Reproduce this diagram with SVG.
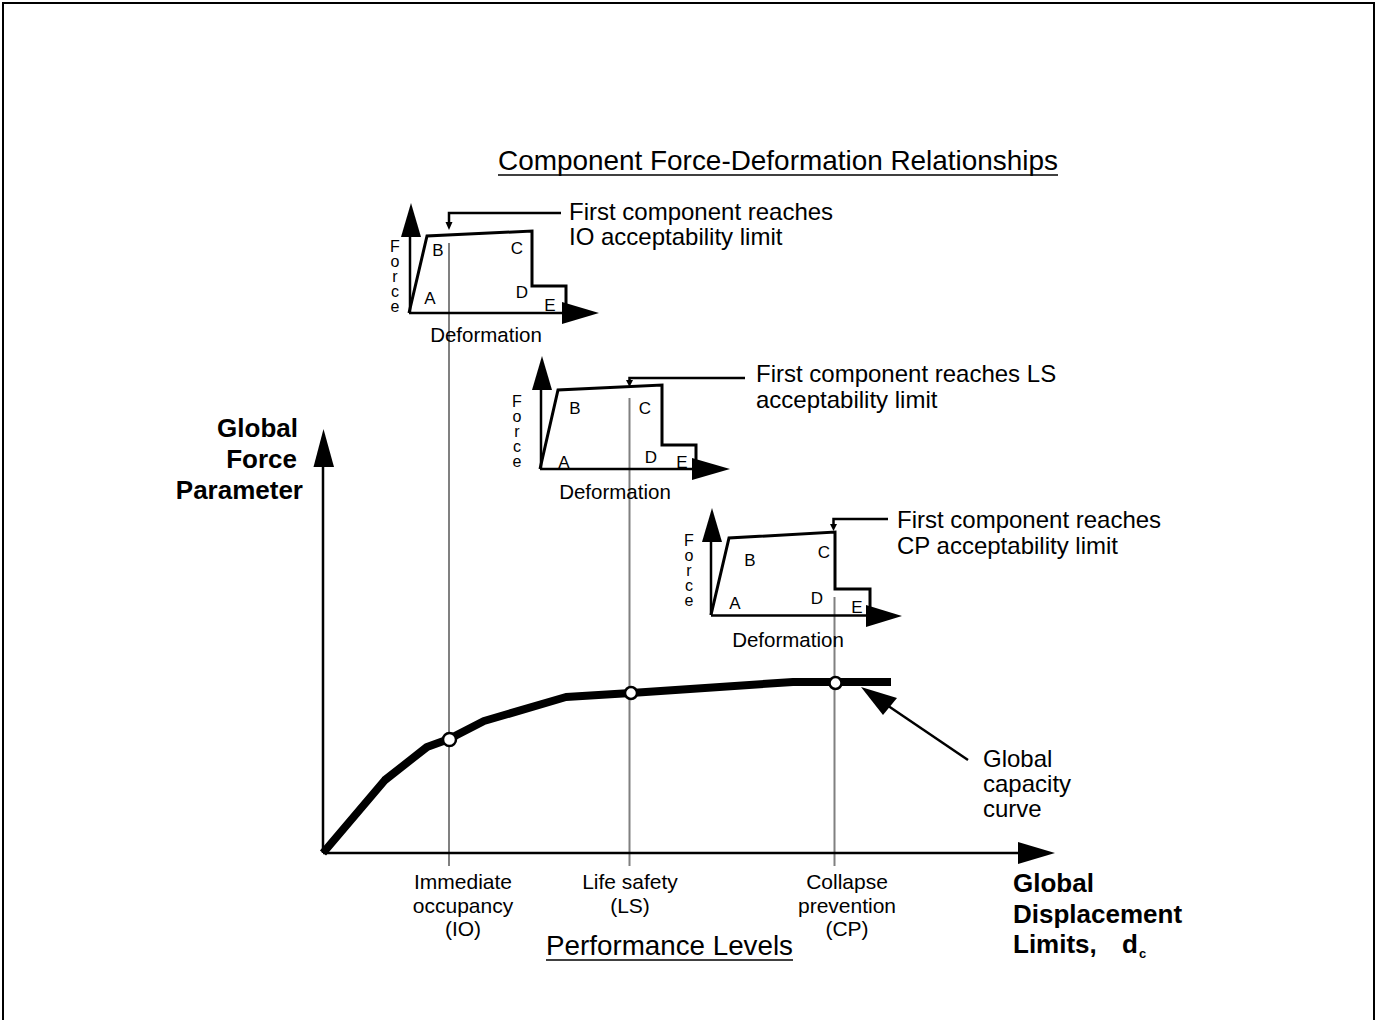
<svg xmlns="http://www.w3.org/2000/svg" width="1378" height="1020" viewBox="0 0 1378 1020">
<style>
text{font-family:"Liberation Sans",Arial,sans-serif;fill:#000}
.ln{fill:none;stroke:#000;stroke-width:3;stroke-linejoin:miter}
.ax{fill:none;stroke:#000;stroke-width:2.5}
.head{fill:#000;stroke:none}
.gray{stroke:#808080;stroke-width:2;fill:none}
.call{fill:none;stroke:#000;stroke-width:2.5}
.lbl{font-size:17px;text-anchor:middle}
.frc{font-size:16px;text-anchor:middle}
.def{font-size:20.5px;text-anchor:middle}
.note{font-size:24px}
.hdr{font-size:28px}
.bold{font-size:26px;font-weight:bold}
.lvl{font-size:21px;text-anchor:middle}
.curve{fill:none;stroke:#000;stroke-width:8;stroke-linejoin:round}
.pt{fill:#fff;stroke:#000;stroke-width:2.5}
</style>
<g id="frame"><path d="M3,1020 V3 H1374 V1020" fill="none" stroke="#000" stroke-width="2"/></g>

<g id="title">
<text class="hdr" x="498" y="170" textLength="560" lengthAdjust="spacingAndGlyphs">Component Force-Deformation Relationships</text>
<line x1="498" y1="175" x2="1058" y2="175" stroke="#000" stroke-width="1.5"/>
</g>

<g id="connectors">
<line class="gray" x1="449" y1="243" x2="449" y2="866"/>
<line class="gray" x1="629.5" y1="398" x2="629.5" y2="866"/>
<line class="gray" x1="834.5" y1="597" x2="834.5" y2="866"/>
<path class="call" d="M561,213 H449 V224"/>
<polygon class="head" points="449,230 445.5,222 452.5,222"/>
<path class="call" d="M745,378 H629.5 V382"/>
<polygon class="head" points="629.5,387 626,380 633,380"/>
<path class="call" d="M888,519 H833.5 V526"/>
<polygon class="head" points="833.5,531 830,524 837,524"/>
<line x1="968" y1="760" x2="878" y2="699" stroke="#000" stroke-width="2.5"/>
<polygon class="head" points="861,687 883,715 897,698"/>
</g>

<g id="component-io">
<line class="ax" x1="409" y1="313" x2="565" y2="313"/>
<polygon class="head" points="599,313 562,302 562,324"/>
<line class="ax" x1="410" y1="313" x2="410" y2="235"/>
<polygon class="head" points="411,203 401,237 421,237"/>
<path class="ln" d="M409,313 L427,236 L532,231 L532,286 L566,286 L566,308"/>
<text class="frc"><tspan x="395" y="252">F</tspan><tspan x="395" y="267">o</tspan><tspan x="395" y="282">r</tspan><tspan x="395" y="297">c</tspan><tspan x="395" y="312">e</tspan></text>
<text class="lbl" x="438" y="256">B</text>
<text class="lbl" x="517" y="254">C</text>
<text class="lbl" x="430" y="304">A</text>
<text class="lbl" x="522" y="297.5">D</text>
<text class="lbl" x="550" y="311">E</text>
<text class="def" x="486" y="342">Deformation</text>
<text class="note" x="569" y="219.5">First component reaches</text>
<text class="note" x="569" y="245">IO acceptability limit</text>
</g>

<g id="component-ls">
<line class="ax" x1="540" y1="469" x2="694" y2="469"/>
<polygon class="head" points="730,469 692,458 692,480"/>
<line class="ax" x1="541" y1="469" x2="541" y2="388"/>
<polygon class="head" points="542,356 532,390 552,390"/>
<path class="ln" d="M540,469 L558,390 L662,385 L662,445 L696,445 L696,462"/>
<text class="frc"><tspan x="517" y="407">F</tspan><tspan x="517" y="422">o</tspan><tspan x="517" y="437">r</tspan><tspan x="517" y="452">c</tspan><tspan x="517" y="467">e</tspan></text>
<text class="lbl" x="575" y="413.5">B</text>
<text class="lbl" x="645" y="413.5">C</text>
<text class="lbl" x="564" y="467.5">A</text>
<text class="lbl" x="651" y="462.5">D</text>
<text class="lbl" x="682" y="467.5">E</text>
<text class="def" x="615" y="499">Deformation</text>
<text class="note" x="756" y="382">First component reaches LS</text>
<text class="note" x="756" y="408">acceptability limit</text>
</g>

<g id="component-cp">
<line class="ax" x1="711" y1="615.5" x2="868" y2="615.5"/>
<polygon class="head" points="902,616 866,605 866,627"/>
<line class="ax" x1="711" y1="615" x2="711" y2="540"/>
<polygon class="head" points="712,508 702,542 722,542"/>
<path class="ln" d="M711,615 L729,538 L835,532 L835,589 L870,589 L870,609"/>
<text class="frc"><tspan x="689" y="546">F</tspan><tspan x="689" y="561">o</tspan><tspan x="689" y="576">r</tspan><tspan x="689" y="591">c</tspan><tspan x="689" y="606">e</tspan></text>
<text class="lbl" x="750" y="566">B</text>
<text class="lbl" x="824" y="557.5">C</text>
<text class="lbl" x="735" y="609">A</text>
<text class="lbl" x="817" y="604">D</text>
<text class="lbl" x="857" y="612.5">E</text>
<text class="def" x="788" y="647">Deformation</text>
<text class="note" x="897" y="528">First component reaches</text>
<text class="note" x="897" y="554">CP acceptability limit</text>
</g>

<g id="global-axes">
<line x1="323" y1="853" x2="1020" y2="853" stroke="#000" stroke-width="2.5"/>
<polygon class="head" points="1055,853 1018,842 1018,864"/>
<line x1="323" y1="853" x2="323" y2="465" stroke="#000" stroke-width="2.5"/>
<polygon class="head" points="323.5,429 313.5,467 334,467"/>
<text class="bold" text-anchor="end"><tspan x="298" y="437">Global</tspan><tspan x="297" y="468">Force</tspan><tspan x="303" y="499">Parameter</tspan></text>
<text class="bold"><tspan x="1013" y="892">Global</tspan><tspan x="1013" y="923">Displacement</tspan><tspan x="1013" y="953">Limits,</tspan><tspan x="1122" y="953">d</tspan><tspan x="1139" y="958" style="font-size:13px">c</tspan></text>
</g>

<g id="capacity-curve">
<path class="curve" d="M323,853 L385,780 L427,747 L449,739 L484,721 L566,697 L631,693 L793,682 L891,682"/>
<circle class="pt" cx="449.5" cy="739.5" r="6.5"/>
<circle class="pt" cx="631" cy="693" r="6"/>
<circle class="pt" cx="835.5" cy="683" r="6"/>
<text class="note"><tspan x="983" y="767">Global</tspan><tspan x="983" y="791.5">capacity</tspan><tspan x="983" y="816.5">curve</tspan></text>
</g>

<g id="performance-levels">
<text class="lvl"><tspan x="463" y="889">Immediate</tspan><tspan x="463" y="912.5">occupancy</tspan><tspan x="463" y="936">(IO)</tspan></text>
<text class="lvl"><tspan x="630" y="889">Life safety</tspan><tspan x="630" y="912.5">(LS)</tspan></text>
<text class="lvl"><tspan x="847" y="889">Collapse</tspan><tspan x="847" y="912.5">prevention</tspan><tspan x="847" y="936">(CP)</tspan></text>
<text class="hdr" x="546" y="955" textLength="247" lengthAdjust="spacingAndGlyphs">Performance Levels</text>
<line x1="546" y1="960" x2="793" y2="960" stroke="#000" stroke-width="1.5"/>
</g>
</svg>
